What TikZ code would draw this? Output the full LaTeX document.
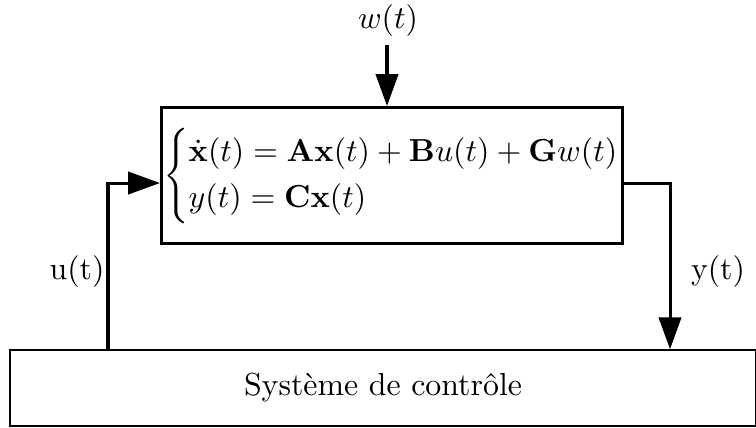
\documentclass[tikz,border=0pt]{standalone}
\usepackage{amsmath}
\usetikzlibrary{arrows.meta,calc}
\begin{document}
\begin{tikzpicture}[x=0.314pt,y=-0.314pt,
  thickline/.style={line width=0.95pt},
  flow/.style={thickline,-{Triangle[length=10pt,width=7pt]}},
  mainbox/.style={draw,thickline,minimum height=136*0.314pt,minimum width=461*0.314pt,inner xsep=0.3pt},
  ctrlbox/.style={draw,line width=0.5pt,minimum height=76*0.314pt,minimum width=746*0.314pt},
  lbl/.style={inner sep=0pt}]
\useasboundingbox (0,0) rectangle (756,427);
\node[mainbox] (sys) at (392,175.5) {$\def\arraystretch{1.2}\left\{\begin{array}{@{}l@{}}\dot{\mathbf{x}}(t)=\mathbf{A}\mathbf{x}(t)+\mathbf{B}u(t)+\mathbf{G}w(t)\\ y(t)=\mathbf{C}\mathbf{x}(t)\end{array}\right.$};
\node[ctrlbox] (ctrl) at (383,388) {Système de contrôle};
\node[lbl] (w) at (388,21) {$w(t)$};
\node[lbl] (ul) at (77,272) {u(t)};
\node[lbl] (yl) at (718,272) {y(t)};
\coordinate (wtop) at (387,45);
\coordinate (ux) at (108,0);
\coordinate (yy) at (0,183);
\coordinate (yx) at (670,0);
\draw[flow] (wtop) -- (wtop |- sys.north);
\draw[flow] (ctrl.north -| ux) |- (sys.west |- yy);
\draw[flow] (sys.east |- yy) -| (ctrl.north -| yx);
\end{tikzpicture}
\end{document}
